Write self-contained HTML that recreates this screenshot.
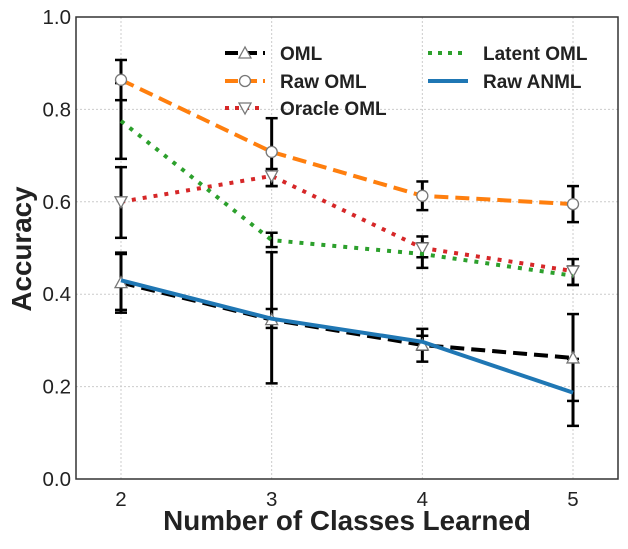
<!DOCTYPE html>
<html><head><meta charset="utf-8"><style>
body{margin:0;background:#fff;}
svg{font-family:"Liberation Sans",sans-serif;}
</style></head><body>
<svg id="c" width="628" height="544"></svg>
<script>
const xs=[2,3,4,5];
const omlVals=[0.425,0.345,0.29,0.262];
const omlLo=[0.36,0.207,0.254,0.169];
const omlHi=[0.49,0.491,0.325,0.357];
const rawOmlVals=[0.864,0.708,0.613,0.595];
const rawOmlLo=[0.82,0.634,0.582,0.556];
const rawOmlHi=[0.907,0.781,0.644,0.634];
const oracleVals=[0.6,0.656,0.5,0.45];
const oracleLo=[0.522,0.634,0.48,0.42];
const oracleHi=[0.675,0.671,0.525,0.476];
const latentVals=[0.775,0.517,0.487,0.44];
const latentLo=[0.693,0.502,0.457,0.42];
const latentHi=[0.857,0.533,0.51,0.46];
const anmlVals=[0.43,0.347,0.297,0.187];
const anmlLo=[0.366,0.327,0.28,0.115];
const anmlHi=[0.487,0.368,0.31,0.26];
const yTicks=[0,0.2,0.4,0.6,0.8,1.0];
const xTicks=[2,3,4,5];

const L=76,R=618,T=17,B=479;
const X=v=>121+(v-2)*150.67;
const Y=v=>B-(B-T)*v;
const svg=document.getElementById('c');
const NS='http://www.w3.org/2000/svg';
function el(tag,attrs,parent){const e=document.createElementNS(NS,tag);for(const k in attrs)e.setAttribute(k,attrs[k]);(parent||svg).appendChild(e);return e;}

yTicks.forEach(t=>{const g=el('line',{x1:L,x2:R,y1:Y(t),y2:Y(t),stroke:'#ccc','stroke-dasharray':'2,2','stroke-width':1});


const tx=el('text',{x:L-5,y:Y(t)+7,'text-anchor':'end','font-size':20.5,fill:'#222'});tx.textContent=t.toFixed(1);

});
xTicks.forEach(t=>{const g=el('line',{x1:X(t),x2:X(t),y1:T,y2:B,stroke:'#ccc','stroke-dasharray':'2,2','stroke-width':1});


const tx=el('text',{x:X(t),y:B+27,'text-anchor':'middle','font-size':20.5,fill:'#222'});tx.textContent=t;

});

const series=[
 {name:'oml',vals:omlVals,lo:omlLo,hi:omlHi,color:'#000',dash:'14,7',w:4,m:'up'},
 {name:'raw-oml',vals:rawOmlVals,lo:rawOmlLo,hi:rawOmlHi,color:'#ff7f0e',dash:'14,7',w:4,m:'circle'},
 {name:'oracle-oml',vals:oracleVals,lo:oracleLo,hi:oracleHi,color:'#d62728',dash:'4,7',w:4,m:'down'},
 {name:'latent-oml',vals:latentVals,lo:latentLo,hi:latentHi,color:'#2ca02c',dash:'4,7',w:4,m:null},
 {name:'raw-anml',vals:anmlVals,lo:anmlLo,hi:anmlHi,color:'#1f77b4',dash:null,w:4,m:null}
];
series.forEach(s=>{xs.forEach((x,i)=>{
 const g=el('g',{});
 
 
 el('line',{x1:X(x),x2:X(x),y1:Y(s.lo[i]),y2:Y(s.hi[i]),stroke:'#000','stroke-width':3},g);
 [s.lo[i],s.hi[i]].forEach(v=>el('line',{x1:X(x)-6,x2:X(x)+6,y1:Y(v),y2:Y(v),stroke:'#000','stroke-width':2.5},g));
});});
function marker(type,cx,cy,g){
 if(type==='circle')return el('circle',{cx,cy,r:5.5,fill:'#fff',stroke:'#777','stroke-width':1.3},g);
 if(type==='up')return el('polygon',{points:`${cx},${cy-6} ${cx-6},${cy+5} ${cx+6},${cy+5}`,fill:'#fff',stroke:'#777','stroke-width':1.3},g);
 if(type==='down')return el('polygon',{points:`${cx},${cy+6} ${cx-6},${cy-5} ${cx+6},${cy-5}`,fill:'#fff',stroke:'#777','stroke-width':1.3},g);
}
series.forEach(s=>{
 const p=el('polyline',{points:xs.map((x,i)=>X(x)+','+Y(s.vals[i])).join(' '),fill:'none',stroke:s.color,'stroke-width':s.w});
 if(s.dash)p.setAttribute('stroke-dasharray',s.dash);
 
 
 if(s.m)xs.forEach((x,i)=>{const mk=marker(s.m,X(x),Y(s.vals[i]));
  
  });
});
const fr=el('rect',{x:L,y:T,width:R-L,height:B-T,fill:'none',stroke:'#333','stroke-width':1.5});


const leg=[['OML',0,225,53],['Raw OML',1,225,81],['Oracle OML',2,225,108],['Latent OML',3,428,53],['Raw ANML',4,428,81]];
leg.forEach(([lab,si,x,y])=>{const s=series[si];const g=el('g',{});
 
 
 const l=el('line',{x1:x,x2:x+40,y1:y,y2:y,stroke:s.color,'stroke-width':s.w},g);
 if(s.dash)l.setAttribute('stroke-dasharray',s.dash==='14,7'?'13,6':'4,6');
 if(s.m)marker(s.m,x+20,y,g);
 const t=el('text',{x:x+55,y:y+7,'font-size':19,'font-weight':'bold',fill:'#222'},g);t.textContent=lab;});
const xt=el('text',{x:347,y:530,'text-anchor':'middle','font-size':27.8,'font-weight':'bold',fill:'#222'});xt.textContent='Number of Classes Learned';


const yt=el('text',{x:0,y:0,'text-anchor':'middle','font-size':27.8,'font-weight':'bold',fill:'#222',transform:'translate(31,249) rotate(-90)'});yt.textContent='Accuracy';


</script>
</body></html>
